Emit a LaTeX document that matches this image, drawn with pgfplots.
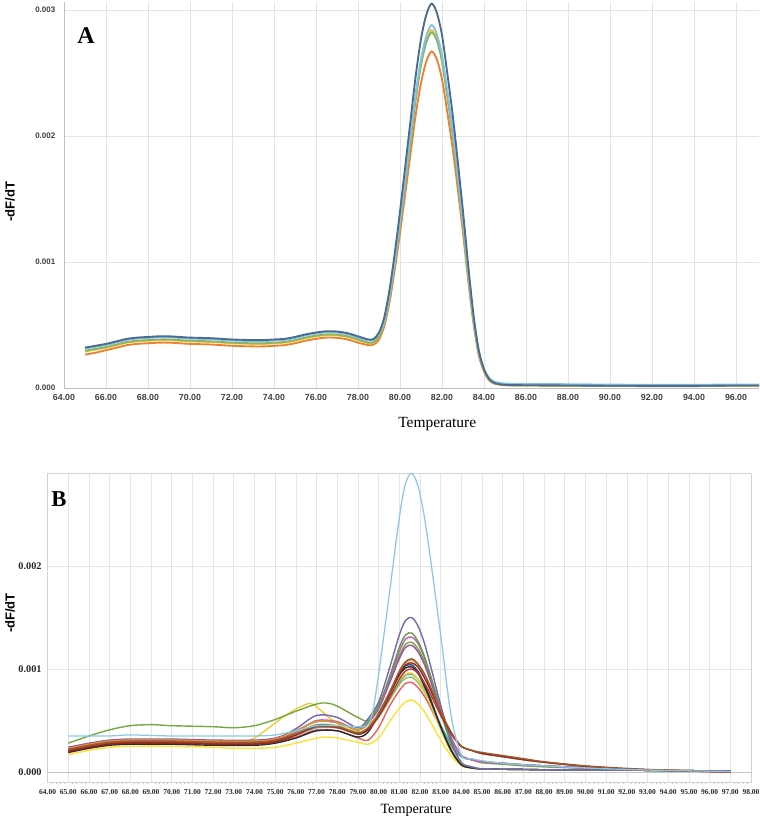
\documentclass[border=0pt]{standalone}
\usepackage{fontspec}
\setmainfont{Liberation Serif}
\setsansfont{Liberation Sans}
\usepackage{pgfplots}
\pgfplotsset{compat=1.18}
\usepackage{pgfplotstable}

\definecolor{aDark}{HTML}{4D6B8C}
\definecolor{aLB}{HTML}{7EC3E8}
\definecolor{aGreen}{HTML}{8DB36A}
\definecolor{aYellow}{HTML}{F2C41C}
\definecolor{aOrange}{HTML}{EA8230}

\definecolor{bLB}{HTML}{8CC8E6}
\definecolor{bGreenO}{HTML}{76A840}
\definecolor{bYellowUp}{HTML}{F0CC30}
\definecolor{bYellowLow}{HTML}{FFE135}
\definecolor{bPurple}{HTML}{7466B0}
\definecolor{bGreen2}{HTML}{5F9E45}
\definecolor{bMagenta}{HTML}{C55FB5}
\definecolor{bPurMag}{HTML}{9E4FA5}
\definecolor{bOrange}{HTML}{E8923A}
\definecolor{bBrown}{HTML}{9C5B2E}
\definecolor{bDarkRed}{HTML}{8A2B22}
\definecolor{bBlack}{HTML}{2B2B2B}
\definecolor{bNavy}{HTML}{3C4E8E}
\definecolor{bTeal}{HTML}{4BB0B5}
\definecolor{bOlive}{HTML}{9DBB55}
\definecolor{bSalmon}{HTML}{E8625C}
\definecolor{bRed}{HTML}{C0392B}

\pgfplotstableread{
x dk lb gr ye or
65 0.320 0.312 0.295 0.290 0.265
65.5 0.335 0.327 0.310 0.305 0.280
66 0.350 0.342 0.325 0.320 0.300
66.5 0.370 0.362 0.345 0.340 0.320
67 0.390 0.382 0.365 0.360 0.340
67.5 0.400 0.392 0.375 0.370 0.350
68 0.405 0.397 0.380 0.375 0.355
68.5 0.410 0.402 0.385 0.380 0.360
69 0.410 0.402 0.385 0.380 0.360
69.5 0.405 0.397 0.380 0.375 0.355
70 0.400 0.392 0.375 0.370 0.350
71 0.395 0.387 0.370 0.365 0.345
72 0.385 0.377 0.360 0.355 0.335
73 0.380 0.372 0.355 0.350 0.330
73.5 0.380 0.372 0.355 0.350 0.330
74 0.385 0.377 0.360 0.355 0.335
74.5 0.390 0.382 0.365 0.360 0.340
75 0.405 0.397 0.380 0.375 0.355
75.5 0.425 0.417 0.400 0.395 0.375
76 0.440 0.432 0.415 0.410 0.390
76.5 0.450 0.442 0.425 0.420 0.400
77 0.448 0.440 0.423 0.418 0.398
77.5 0.435 0.427 0.410 0.405 0.385
78 0.410 0.402 0.385 0.380 0.360
78.5 0.385 0.377 0.360 0.355 0.340
78.75 0.390 0.382 0.365 0.360 0.345
79 0.440 0.430 0.410 0.410 0.385
79.25 0.560 0.530 0.520 0.520 0.490
79.5 0.780 0.740 0.720 0.730 0.680
79.75 1.070 1.010 0.990 1.000 0.940
80 1.400 1.320 1.300 1.300 1.230
80.25 1.760 1.660 1.630 1.640 1.540
80.5 2.120 2.000 1.960 1.970 1.860
80.75 2.480 2.340 2.290 2.310 2.170
81 2.770 2.610 2.560 2.580 2.420
81.25 2.960 2.790 2.740 2.760 2.590
81.5 3.050 2.880 2.820 2.840 2.670
81.75 2.980 2.810 2.760 2.770 2.610
82 2.800 2.640 2.590 2.610 2.450
82.25 2.500 2.360 2.310 2.330 2.190
82.5 2.180 2.060 2.020 2.030 1.910
82.75 1.800 1.700 1.670 1.680 1.580
83 1.400 1.320 1.300 1.300 1.230
83.25 0.970 0.920 0.900 0.900 0.850
83.5 0.580 0.550 0.540 0.540 0.510
83.75 0.300 0.290 0.280 0.280 0.260
84 0.150 0.150 0.140 0.140 0.130
84.25 0.070 0.080 0.070 0.070 0.060
84.5 0.040 0.050 0.040 0.040 0.035
85 0.025 0.035 0.025 0.025 0.022
86 0.022 0.032 0.022 0.022 0.020
88 0.020 0.030 0.020 0.020 0.018
90 0.018 0.027 0.018 0.018 0.016
92 0.017 0.025 0.017 0.017 0.015
94 0.017 0.025 0.017 0.017 0.015
96 0.020 0.028 0.020 0.020 0.018
97.1 0.020 0.028 0.020 0.020 0.018
}\dataA

\begin{document}
\begin{tikzpicture}
\useasboundingbox (0pt,0pt) rectangle (570pt,615.75pt);

% ---------------- Panel A ----------------
\begin{axis}[
  at={(48pt,324.75pt)}, anchor=south west,
  scale only axis, width=521.25pt, height=289.5pt,
  xmin=64, xmax=97.095, ymin=0, ymax=3.063,
  axis lines*=left,
  axis line style={-, draw=gray!50, line width=0.6pt},
  grid=major, grid style={draw=gray!22, line width=0.5pt},
  major tick length=0pt,
  xtick={64,66,...,96},
  xticklabels={64.00,66.00,68.00,70.00,72.00,74.00,76.00,78.00,80.00,82.00,84.00,86.00,88.00,90.00,92.00,94.00,96.00},
  ytick={0,1,2,3},
  yticklabels={0.000,0.001,0.002,0.003},
  xticklabel style={font=\sffamily\bfseries\fontsize{6.6}{7}\selectfont, text=black!75, yshift=-1.5pt},
  yticklabel style={font=\sffamily\bfseries\fontsize{6}{7}\selectfont, text=black!75, xshift=-3pt},
  xlabel={Temperature},
  xlabel style={font=\fontsize{11.6}{13}\selectfont, at={(axis description cs:0.537,-0.093)}, anchor=center},
  ylabel={-dF/dT},
  ylabel style={font=\sffamily\bfseries\fontsize{9.8}{11}\selectfont, at={(axis description cs:-0.0777,0.482)}, anchor=center},
]
\addplot[smooth, color=aOrange, line width=1.4pt] table[x=x,y=or]{\dataA};
\addplot[smooth, color=aYellow, line width=1.4pt] table[x=x,y=ye]{\dataA};
\addplot[smooth, color=aGreen, line width=1.4pt] table[x=x,y=gr]{\dataA};
\addplot[smooth, color=aLB, line width=1.4pt] table[x=x,y=lb]{\dataA};
\addplot[smooth, color=aDark, line width=1.4pt] table[x=x,y=dk]{\dataA};
\node[font=\bfseries\fontsize{18}{20}\selectfont] at (axis description cs:0.0317,0.912) {A};
\end{axis}

% ---------------- Panel B ----------------
\begin{axis}[
  at={(35.7pt,29.0pt)}, anchor=south west,
  scale only axis, width=527.55pt, height=231.75pt,
  xmin=64, xmax=98, ymin=-0.1, ymax=2.9,
  axis line style={draw=gray!35, line width=0.6pt},
  grid=major, grid style={draw=gray!20, line width=0.5pt},
  xtick={64,...,98},
  xticklabels={64.00,65.00,66.00,67.00,68.00,69.00,70.00,71.00,72.00,73.00,74.00,75.00,76.00,77.00,78.00,79.00,80.00,81.00,82.00,83.00,84.00,85.00,86.00,87.00,88.00,89.00,90.00,91.00,92.00,93.00,94.00,95.00,96.00,97.00,98.00},
  minor x tick num=4,
  xtick pos=bottom, ytick pos=left,
  tick align=outside,
  major tick length=0pt, minor tick length=1.5pt,
  minor tick style={draw=gray!45},
  ytick={0,1,2},
  yticklabels={0.000,0.001,0.002},
  xticklabel style={font=\bfseries\fontsize{5.6}{6}\selectfont, text=black!85, yshift=-1.5pt},
  yticklabel style={font=\bfseries\fontsize{7.7}{8}\selectfont, text=black!85, xshift=-1pt},
  xlabel={Temperature},
  xlabel style={font=\fontsize{10.6}{12}\selectfont, at={(axis description cs:0.524,-0.0896)}, anchor=center},
  ylabel={-dF/dT},
  ylabel style={font=\sffamily\bfseries\fontsize{9.8}{11}\selectfont, at={(axis description cs:-0.0535,0.548)}, anchor=center},
  every axis plot/.append style={smooth, line width=1.05pt},
]
\draw[gray!45, line width=0.6pt] (axis cs:64,0) -- (axis cs:98,0);

% lower yellow
\addplot[color=bYellowLow] coordinates {(65,0.17)(66,0.21)(67,0.24)(68,0.25)(70,0.25)(72,0.24)(73,0.23)(74,0.23)(75,0.24)(76,0.28)(77,0.33)(77.5,0.34)(78,0.33)(79,0.29)(79.5,0.27)(80,0.33)(80.5,0.48)(81,0.62)(81.3,0.68)(81.6,0.70)(81.9,0.66)(82.2,0.59)(82.5,0.49)(83,0.31)(83.5,0.16)(84,0.06)(84.5,0.04)(85,0.03)(86,0.027)(87,0.025)(88,0.022)(90,0.02)(92,0.018)(94,0.015)(97,0.01)};
% salmon
\addplot[color=bSalmon] coordinates {(65,0.21)(66,0.25)(67,0.28)(68,0.29)(70,0.29)(72,0.28)(74,0.28)(75,0.30)(76,0.34)(77,0.41)(78,0.40)(79,0.33)(79.5,0.31)(80,0.43)(80.5,0.63)(81,0.79)(81.3,0.86)(81.6,0.87)(81.9,0.82)(82.2,0.74)(82.5,0.63)(83,0.43)(83.5,0.25)(84,0.15)(84.5,0.12)(85,0.10)(86,0.085)(87,0.07)(88,0.06)(90,0.04)(92,0.025)(94,0.015)(97,0.005)};
% olive
\addplot[color=bOlive] coordinates {(65,0.23)(66,0.27)(67,0.30)(68,0.31)(70,0.31)(72,0.30)(74,0.30)(75,0.32)(76,0.38)(77,0.46)(78,0.45)(79,0.39)(79.5,0.43)(80,0.53)(80.5,0.69)(81,0.85)(81.3,0.91)(81.6,0.92)(81.9,0.87)(82.2,0.78)(82.5,0.66)(83,0.45)(83.5,0.26)(84,0.15)(84.5,0.12)(85,0.10)(86,0.085)(87,0.07)(88,0.06)(90,0.04)(92,0.025)(94,0.015)(97,0.005)};
% teal
\addplot[color=bTeal] coordinates {(65,0.22)(66,0.26)(67,0.29)(68,0.30)(70,0.30)(72,0.29)(74,0.29)(75,0.31)(76,0.36)(77,0.43)(78,0.43)(79,0.37)(79.5,0.41)(80,0.54)(80.5,0.70)(81,0.87)(81.3,0.94)(81.6,0.95)(81.9,0.90)(82.2,0.81)(82.5,0.69)(83,0.46)(83.5,0.27)(84,0.15)(84.5,0.12)(85,0.10)(86,0.085)(87,0.07)(88,0.06)(90,0.04)(92,0.025)(94,0.015)(97,0.005)};
% upper yellow
\addplot[color=bYellowUp] coordinates {(65,0.21)(66,0.25)(67,0.28)(68,0.30)(70,0.30)(72,0.29)(73,0.29)(73.8,0.31)(74.5,0.40)(75.5,0.55)(76.3,0.64)(76.8,0.66)(77.6,0.53)(78.2,0.45)(79,0.38)(79.5,0.43)(80,0.55)(80.5,0.71)(81,0.89)(81.3,0.95)(81.6,0.96)(81.9,0.90)(82.2,0.79)(82.5,0.66)(83,0.41)(83.5,0.20)(84,0.07)(84.5,0.04)(85,0.03)(86,0.027)(87,0.025)(88,0.022)(90,0.02)(92,0.018)(94,0.015)(97,0.01)};
% green outlier
\addplot[color=bGreenO] coordinates {(65,0.28)(66,0.35)(67,0.41)(68,0.45)(69,0.46)(70,0.45)(72,0.44)(73,0.43)(74,0.45)(75,0.51)(76,0.59)(77,0.66)(77.5,0.67)(78,0.64)(79,0.53)(79.5,0.50)(80,0.65)(80.5,0.88)(81,1.13)(81.3,1.24)(81.6,1.26)(81.9,1.20)(82.2,1.08)(82.5,0.91)(83,0.60)(83.5,0.33)(84,0.16)(84.5,0.12)(85,0.09)(86,0.075)(87,0.06)(88,0.05)(90,0.035)(92,0.02)(94,0.012)(97,0.005)};
% navy
\addplot[color=bNavy] coordinates {(65,0.21)(66,0.25)(67,0.28)(68,0.29)(70,0.29)(72,0.28)(74,0.28)(75,0.30)(76,0.36)(77,0.45)(78,0.44)(79,0.37)(79.5,0.42)(80,0.57)(80.5,0.76)(81,0.95)(81.3,1.03)(81.6,1.04)(81.9,0.98)(82.2,0.86)(82.5,0.72)(83,0.44)(83.5,0.22)(84,0.07)(84.5,0.04)(85,0.03)(86,0.027)(87,0.025)(88,0.022)(90,0.02)(92,0.018)(94,0.015)(97,0.01)};
% black
\addplot[color=bBlack] coordinates {(65,0.19)(66,0.23)(67,0.26)(68,0.27)(70,0.27)(72,0.26)(74,0.26)(75,0.28)(76,0.33)(77,0.40)(78,0.40)(79,0.34)(79.5,0.39)(80,0.56)(80.5,0.75)(81,0.94)(81.3,1.01)(81.6,1.02)(81.9,0.96)(82.2,0.84)(82.5,0.70)(83,0.44)(83.5,0.21)(84,0.07)(84.5,0.04)(85,0.03)(86,0.027)(87,0.025)(88,0.022)(90,0.02)(92,0.018)(94,0.015)(97,0.01)};
% purple-magenta
\addplot[color=bPurMag] coordinates {(65,0.24)(66,0.28)(67,0.31)(68,0.32)(70,0.32)(72,0.31)(74,0.31)(75,0.33)(76,0.40)(77,0.49)(78,0.48)(79,0.41)(79.5,0.48)(80,0.61)(80.5,0.85)(81,1.10)(81.3,1.21)(81.6,1.23)(81.9,1.17)(82.2,1.05)(82.5,0.89)(83,0.59)(83.5,0.33)(84,0.16)(84.5,0.12)(85,0.10)(86,0.085)(87,0.07)(88,0.06)(90,0.04)(92,0.025)(94,0.015)(97,0.005)};
% magenta
\addplot[color=bMagenta] coordinates {(65,0.22)(66,0.26)(67,0.29)(68,0.30)(70,0.30)(72,0.29)(74,0.29)(75,0.32)(76,0.39)(77,0.50)(78,0.49)(79,0.41)(79.5,0.48)(80,0.62)(80.5,0.89)(81,1.17)(81.3,1.29)(81.6,1.31)(81.9,1.25)(82.2,1.12)(82.5,0.94)(83,0.62)(83.5,0.34)(84,0.16)(84.5,0.12)(85,0.10)(86,0.085)(87,0.07)(88,0.06)(90,0.04)(92,0.025)(94,0.015)(97,0.005)};
% green 2
\addplot[color=bGreen2] coordinates {(65,0.23)(66,0.27)(67,0.30)(68,0.31)(70,0.31)(72,0.30)(74,0.30)(75,0.32)(76,0.40)(77,0.49)(78,0.48)(79,0.41)(79.5,0.49)(80,0.64)(80.5,0.91)(81,1.21)(81.3,1.33)(81.6,1.35)(81.9,1.27)(82.2,1.13)(82.5,0.94)(83,0.58)(83.5,0.28)(84,0.09)(84.5,0.05)(85,0.03)(86,0.027)(87,0.025)(88,0.022)(90,0.02)(92,0.018)(94,0.015)(97,0.01)};
% purple
\addplot[color=bPurple] coordinates {(65,0.22)(66,0.26)(67,0.29)(68,0.30)(70,0.30)(72,0.29)(74,0.29)(75,0.32)(76,0.42)(77,0.55)(78,0.53)(79,0.43)(79.5,0.52)(80,0.68)(80.5,0.99)(81,1.33)(81.3,1.47)(81.6,1.50)(81.9,1.42)(82.2,1.26)(82.5,1.04)(83,0.65)(83.5,0.31)(84,0.09)(84.5,0.05)(85,0.03)(86,0.027)(87,0.025)(88,0.022)(90,0.02)(92,0.018)(94,0.015)(97,0.01)};
% red
\addplot[color=bRed] coordinates {(65,0.21)(66,0.25)(67,0.28)(68,0.29)(70,0.29)(72,0.28)(74,0.28)(75,0.30)(76,0.36)(77,0.44)(78,0.43)(79,0.37)(79.5,0.41)(80,0.54)(80.5,0.71)(81,0.90)(81.3,0.98)(81.6,1.00)(81.9,0.96)(82.2,0.87)(82.5,0.76)(83,0.55)(83.5,0.37)(84,0.25)(84.5,0.21)(85,0.18)(86,0.15)(87,0.12)(88,0.095)(90,0.055)(92,0.03)(94,0.015)(97,0.0)};
% orange
\addplot[color=bOrange] coordinates {(65,0.23)(66,0.27)(67,0.30)(68,0.31)(70,0.31)(72,0.30)(74,0.30)(75,0.32)(76,0.40)(77,0.49)(78,0.48)(79,0.41)(79.5,0.46)(80,0.56)(80.5,0.76)(81,0.97)(81.3,1.06)(81.6,1.09)(81.9,1.04)(82.2,0.95)(82.5,0.82)(83,0.59)(83.5,0.38)(84,0.25)(84.5,0.21)(85,0.18)(86,0.15)(87,0.12)(88,0.095)(90,0.055)(92,0.03)(94,0.015)(97,0.0)};
% dark red
\addplot[color=bDarkRed] coordinates {(65,0.20)(66,0.24)(67,0.27)(68,0.28)(70,0.28)(72,0.27)(74,0.27)(75,0.29)(76,0.36)(77,0.45)(78,0.44)(79,0.37)(79.5,0.42)(80,0.55)(80.5,0.74)(81,0.95)(81.3,1.04)(81.6,1.06)(81.9,1.02)(82.2,0.92)(82.5,0.80)(83,0.58)(83.5,0.38)(84,0.25)(84.5,0.21)(85,0.18)(86,0.15)(87,0.12)(88,0.095)(90,0.055)(92,0.03)(94,0.015)(97,0.0)};
% brown
\addplot[color=bBrown] coordinates {(65,0.22)(66,0.26)(67,0.29)(68,0.30)(70,0.30)(72,0.29)(74,0.29)(75,0.31)(76,0.37)(77,0.45)(78,0.44)(79,0.38)(79.5,0.43)(80,0.56)(80.5,0.76)(81,0.98)(81.3,1.07)(81.6,1.10)(81.9,1.05)(82.2,0.96)(82.5,0.83)(83,0.59)(83.5,0.39)(84,0.25)(84.5,0.21)(85,0.19)(86,0.16)(87,0.13)(88,0.10)(90,0.06)(92,0.035)(94,0.018)(97,0.0)};
% light blue
\addplot[color=bLB, line width=0.95pt] coordinates {(65,0.35)(66,0.35)(67,0.35)(68,0.36)(70,0.35)(72,0.35)(74,0.35)(75,0.36)(76,0.40)(77,0.45)(78,0.45)(79,0.44)(79.5,0.46)(79.75,0.62)(80,0.95)(80.25,1.32)(80.5,1.70)(81,2.47)(81.3,2.80)(81.6,2.90)(81.9,2.78)(82.2,2.49)(82.5,2.08)(83,1.33)(83.5,0.55)(84,0.16)(84.5,0.13)(85,0.11)(86,0.085)(87,0.07)(88,0.06)(90,0.04)(92,0.025)(94,0.015)(97,0.005)};

\node[font=\bfseries\fontsize{17}{19}\selectfont] at (axis description cs:0.016,0.917) {B};
\end{axis}
\end{tikzpicture}
\end{document}
